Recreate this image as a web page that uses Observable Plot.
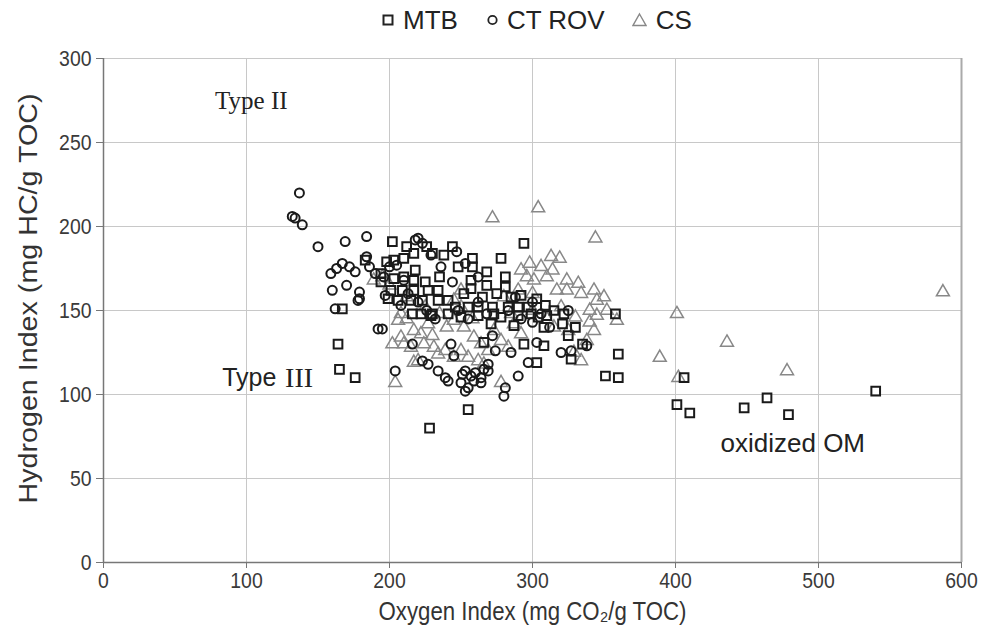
<!DOCTYPE html>
<html>
<head>
<meta charset="utf-8">
<script src="https://cdn.jsdelivr.net/npm/d3@7"></script>
<script src="https://cdn.jsdelivr.net/npm/@observablehq/plot@0.6"></script>
<style>
  html, body { margin: 0; padding: 0; background: #fff; }
  body { width: 982px; height: 636px; overflow: hidden; font-family: "Liberation Sans", Arial, sans-serif; }
  #legend { height: 40px; display: flex; align-items: center; justify-content: flex-start; font-size: 26px; color: #222; padding-left: 382px; box-sizing: border-box; }
  #legend .item { display: flex; align-items: center; }
  #legend svg { display: block; }
</style>
</head>
<body>
<div id="legend"></div>
<div id="chart"></div>
<script>
// ---- data (Oxygen Index, Hydrogen Index) ----
const seriesNames = ["MTB", "CT ROV", "CS"];
const xTicks = [0, 100, 200, 300, 400, 500, 600];
const yTicks = [0, 50, 100, 150, 200, 250, 300];
const xTitle = "Oxygen Index (mg CO₂/g TOC)";
const yTitle = "Hydrogen Index (mg HC/g TOC)";

const mtb = [
  [167,151],[164,130],[165,115],[176,110],[202,191],[244,188],[294,190],[278,181],[258,181],[258,176],
  [268,173],[281,170],[183,180],[203,180],[210,181],[217,184],[230,184],[238,183],[198,179],[218,174],
  [194,172],[203,169],[210,170],[217,168],[225,167],[235,170],[194,167],[257,168],[268,165],[281,164],
  [201,162],[209,162],[217,162],[227,162],[234,162],[257,163],[206,156],[215,156],[223,156],[234,156],
  [241,156],[199,157],[255,152],[262,152],[272,152],[283,152],[290,152],[297,152],[292,159],[303,157],
  [309,153],[322,148],[222,148],[216,148],[230,148],[241,148],[303,119],[255,91],[228,80],[266,131],
  [271,142],[287,141],[294,130],[308,129],[308,140],[325,135],[327,121],[273,148],[229,147],[250,146],
  [262,147],[278,146],[290,147],[299,148],[304,146],[310,147],[321,142],[406,110],[540,102],[401,94],
  [410,89],[448,92],[464,98],[479,88],[360,124],[351,111],[360,110],[358,148],[226,188],[248,176],
  [265,158],[285,158],[275,160],[315,150],[330,140],[335,130],[246,152],[252,160],[212,188]
];

const ctrov = [
  [132,206],[134,205],[137,220],[139,201],[150,188],[169,191],[184,194],[159,172],[163,175],[167,178],
  [172,176],[176,173],[160,162],[170,165],[179,161],[179,157],[162,151],[178,156],[192,139],[220,193],
  [223,190],[253,178],[184,182],[244,167],[197,159],[195,139],[204,114],[216,130],[223,120],[227,118],
  [234,114],[239,110],[241,108],[251,112],[253,114],[257,111],[260,113],[264,110],[266,115],[269,118],
  [269,114],[264,107],[253,102],[255,104],[250,107],[259,108],[274,126],[281,104],[280,99],[290,111],
  [297,119],[303,131],[320,125],[327,126],[338,129],[186,176],[190,172],[196,170],[205,177],[210,168],
  [213,160],[208,153],[220,155],[226,150],[232,145],[248,150],[255,145],[262,155],[268,148],[283,150],
  [288,158],[300,155],[306,148],[312,140],[325,150],[300,143],[272,135],[285,125],[292,145],[245,123],
  [218,192],[229,183],[247,185],[200,176],[236,176],[262,170],[243,130]
];

const cs = [
  [272,205],[304,211],[344,193],[313,182],[292,174],[296,170],[306,176],[314,174],[324,168],[332,166],
  [334,160],[343,162],[345,156],[310,170],[317,162],[324,162],[301,168],[189,168],[208,148],[250,162],
  [245,156],[250,152],[204,107],[206,144],[208,134],[210,130],[217,138],[222,136],[224,130],[227,142],
  [217,119],[220,120],[231,128],[234,124],[239,126],[245,122],[250,126],[255,122],[262,120],[266,118],
  [245,144],[252,140],[259,134],[264,130],[269,126],[273,138],[278,132],[283,128],[287,142],[292,136],
  [278,107],[334,120],[343,138],[329,125],[587,161],[401,148],[436,131],[389,122],[478,114],[402,110],
  [350,158],[352,150],[359,144],[195,170],[200,165],[212,158],[225,152],[235,148],[240,140],[212,145],
  [202,130],[300,150],[310,145],[320,152],[330,146],[340,150],[345,147],[315,140],[325,138],[338,132],
  [300,160],[290,162],[280,158],[285,148],[298,178],[319,181],[230,135],[258,145],[215,128],[340,143]
];

const annotations = [
  {x: 78, y: 275, text: "Type II", font: "serif", anchor: "start", size: 25},
  {x: 83, y: 110, text: "Type", font: "sans", anchor: "start", size: 25},
  {x: 127, y: 110, text: "III", font: "serif", anchor: "start", size: 28},
  {x: 482, y: 71, text: "oxidized OM", font: "sans", anchor: "middle", size: 26}
];

// ---- legend ----
const legendDef = [
  {name: seriesNames[0], color: "#222", sym: "square", after: 29},
  {name: seriesNames[1], color: "#222", sym: "circle", after: 27},
  {name: seriesNames[2], color: "#888", sym: "triangle", after: 0}
];
const legend = document.getElementById("legend");
for (const d of legendDef) {
  const item = document.createElement("div");
  item.className = "item";
  item.style.marginRight = d.after + "px";
  let shape, w;
  if (d.sym === "square") { w = 12; shape = `<rect x="1.5" y="4.5" width="9" height="9" fill="none" stroke="${d.color}" stroke-width="2"/>`; }
  else if (d.sym === "circle") { w = 11; shape = `<circle cx="5.5" cy="9" r="4.2" fill="none" stroke="${d.color}" stroke-width="1.8"/>`; }
  else { w = 15; shape = `<path d="M7.5,3 L14,14.5 L1,14.5 Z" fill="none" stroke="${d.color}" stroke-width="1.4"/>`; }
  item.innerHTML = `<svg width="${w}" height="18" style="margin-right:9px">${shape}</svg><span>${d.name}</span>`;
  legend.appendChild(item);
}

// ---- chart ----
const toObj = (arr, s) => arr.map(([x, y]) => ({x, y, s}));
const sansFont = "'Liberation Sans', Arial, sans-serif";
const serifFont = "'Liberation Serif', 'Times New Roman', serif";
const chart = Plot.plot({
  width: 982,
  height: 596,
  marginTop: 18,
  marginBottom: 74,
  marginLeft: 103,
  marginRight: 21,
  style: {fontFamily: sansFont, fontSize: "16px", color: "#333", background: "white", overflow: "visible"},
  x: {domain: [0, 600], label: null},
  y: {domain: [0, 300], label: null},
  marks: [
    Plot.gridX(xTicks, {stroke: "#c8c8c8", strokeOpacity: 1, strokeWidth: 1}),
    Plot.gridY(yTicks, {stroke: "#c8c8c8", strokeOpacity: 1, strokeWidth: 1}),
    Plot.ruleX([600], {stroke: "#aaa", strokeWidth: 2}),
    Plot.ruleX([0], {stroke: "#777", strokeWidth: 1.5}),
    Plot.ruleY([0], {stroke: "#777", strokeWidth: 1.5}),
    Plot.axisX({ticks: xTicks, tickSize: 6, tickPadding: 4, fontSize: 22, stroke: "#777", fill: "#3a3a3a", label: null}),
    Plot.axisY({ticks: yTicks, tickSize: 7, tickPadding: 5, fontSize: 22, stroke: "#777", fill: "#3a3a3a", label: null}),
    Plot.dot(toObj(cs, "CS"), {x: "x", y: "y", symbol: "triangle", r: 4.8, stroke: "#888", strokeWidth: 1.5, fill: "none"}),
    Plot.dot(toObj(ctrov, "CT ROV"), {x: "x", y: "y", symbol: "circle", r: 4.5, stroke: "#1a1a1a", strokeWidth: 2, fill: "none"}),
    Plot.dot(toObj(mtb, "MTB"), {x: "x", y: "y", symbol: "square", r: 4.9, stroke: "#1a1a1a", strokeWidth: 2, fill: "none"}),
    Plot.text(annotations, {x: "x", y: "y", text: "text", textAnchor: d => d.anchor, fontSize: d => d.size, fill: "#222"}),
    Plot.text([xTitle], {frameAnchor: "bottom", dy: 49, lineAnchor: "middle", textAnchor: "middle", text: d => d, fontSize: 25, fill: "#333"}),
    Plot.text([yTitle], {frameAnchor: "left", dx: -75, dy: -12, rotate: -90, lineAnchor: "middle", textAnchor: "middle", text: d => d, fontSize: 26, fill: "#333"})
  ]
});
document.getElementById("chart").appendChild(chart);

const svg = d3.select(chart);
// serif annotations (Type II, III) and text-anchor per annotation
svg.selectAll("text").each(function () {
  const a = annotations.find(d => d.text === this.textContent);
  if (a) {
    this.setAttribute("font-family", a.font === "serif" ? serifFont : sansFont);
    this.setAttribute("text-anchor", a.anchor);
    this.setAttribute("font-size", a.size);
  }
});
// condensed look of axis tick labels and titles, as in the reference
svg.selectAll('g[aria-label="x-axis tick label"] text, g[aria-label="y-axis tick label"] text').each(function () {
  const n = this.textContent.length;
  this.setAttribute("textLength", n * 10.8);
  this.setAttribute("lengthAdjust", "spacingAndGlyphs");
});
svg.selectAll("text").each(function () {
  if (this.textContent === xTitle) { this.setAttribute("textLength", 308); this.setAttribute("lengthAdjust", "spacingAndGlyphs"); }
  if (this.textContent === yTitle) { this.setAttribute("textLength", 410); this.setAttribute("lengthAdjust", "spacingAndGlyphs"); }
});
</script>
</body>
</html>
